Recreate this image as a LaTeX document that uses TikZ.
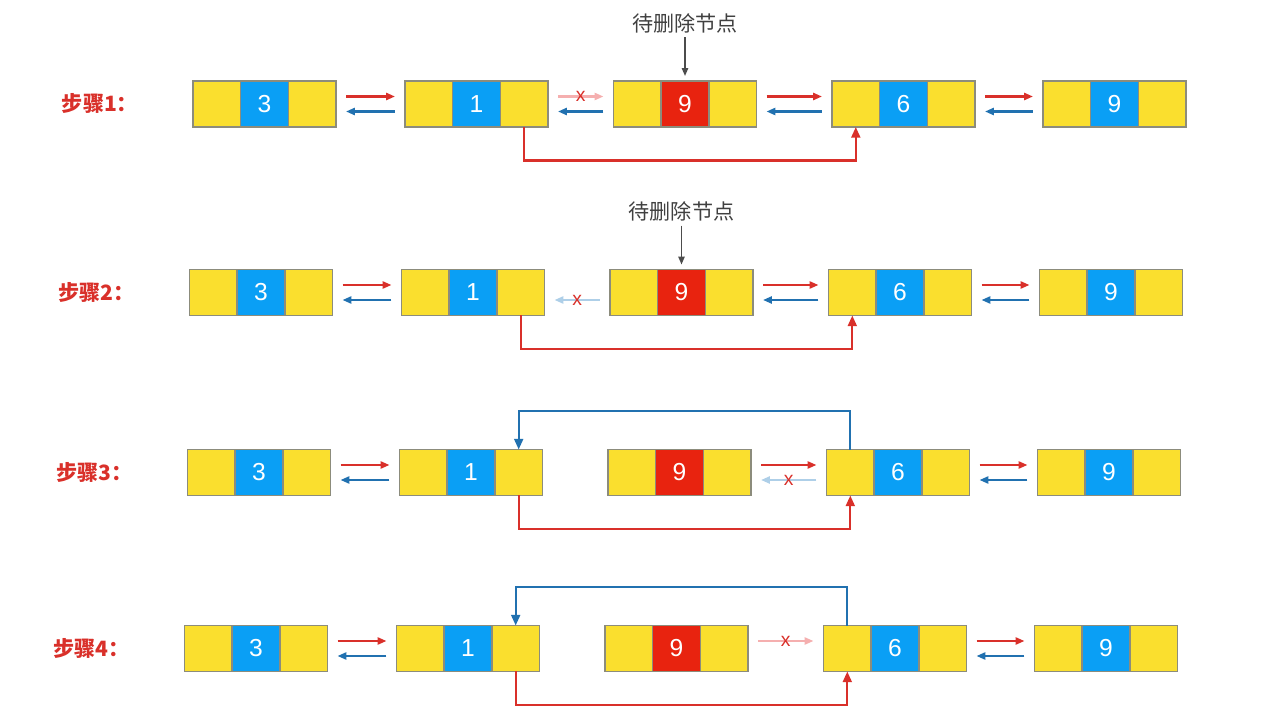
\documentclass[tikz,border=0pt]{standalone}
\usepackage{fontspec}
\setmainfont{Liberation Sans}
\newfontfamily\cjk{Noto Sans CJK SC}
\usetikzlibrary{positioning,arrows.meta}

\definecolor{cellyellow}{HTML}{FADF2E}
\definecolor{cellblue}{HTML}{0A9FF5}
\definecolor{cellred}{HTML}{E8230F}
\definecolor{cellborder}{HTML}{8C8C7C}
\definecolor{linkred}{HTML}{D9302A}
\definecolor{linkblue}{HTML}{2171B0}
\definecolor{fadedred}{HTML}{F5AFAF}
\definecolor{fadedblue}{HTML}{AECFE8}

\tikzset{
  cell/.style={draw=cellborder,line width=0.8pt,fill=cellyellow,
    minimum width=0.954cm,minimum height=0.92cm,inner sep=0pt,outer sep=0pt,
    text=white,font=\fontsize{14}{14}\selectfont},
  nxt/.style={draw=linkred,line width=1.2pt,-{Triangle[length=5pt,width=4pt]}},
  prv/.style={draw=linkblue,line width=1.2pt,-{Triangle[length=5pt,width=4pt]}},
  fnxt/.style={nxt,draw=fadedred},
  fprv/.style={prv,draw=fadedblue},
  cut/.style={text=linkred,font=\fontsize{11}{11}\selectfont,inner sep=0pt},
  jump/.style={line width=1.3pt,-{Triangle[length=6pt,width=5pt]}},
  steplabel/.style={text=linkred,font=\cjk\bfseries\fontsize{12}{12}\selectfont},
  dellabel/.style={text=black!75,font=\cjk\fontsize{12}{12}\selectfont,inner sep=2pt},
  ptr/.style={draw=black!70,line width=0.9pt,-{Triangle[length=4.5pt,width=3.6pt]}}
}

\begin{document}
\begin{tikzpicture}[x=0.02cm,y=-0.02cm]
\useasboundingbox (0,0) rectangle (1285,719);

%链表节点
\foreach \row/\y/\dx in {1/104/0,2/292.5/-3.5,3/472.5/-5.5,4/648.5/-8.5}{
  \node[steplabel] (s\row) at (100+\dx,\y) {步骤\row：};
  \foreach \b/\x/\v/\c in {1/264.5/3/cellblue,2/476.5/1/cellblue,3/685/9/cellred,4/903.5/6/cellblue,5/1114.5/9/cellblue}{
    \node[cell,fill=\c] (m\row\b) at (\x+\dx,\y) {\v};
    \node[cell,left=0pt of m\row\b] (l\row\b) {};
    \node[cell,right=0pt of m\row\b] (r\row\b) {};
  }
}

%前后指针
\foreach \row in {1,...,4}{
  \foreach \a/\b in {1/2,4/5}{
    \draw[nxt] ([xshift=0.2cm,yshift=0.15cm]r\row\a.east) -- ([xshift=-0.2cm,yshift=0.15cm]l\row\b.west);
    \draw[prv] ([xshift=-0.2cm,yshift=-0.15cm]l\row\b.west) -- ([xshift=0.2cm,yshift=-0.15cm]r\row\a.east);
  }
}
\foreach \row in {1,2}{
  \draw[nxt] ([xshift=0.2cm,yshift=0.15cm]r\row3.east) -- ([xshift=-0.2cm,yshift=0.15cm]l\row4.west);
  \draw[prv] ([xshift=-0.2cm,yshift=-0.15cm]l\row4.west) -- ([xshift=0.2cm,yshift=-0.15cm]r\row3.east);
}
\draw[fnxt] ([xshift=0.2cm,yshift=0.15cm]r12.east) -- node[cut]{x} ([xshift=-0.2cm,yshift=0.15cm]l13.west);
\draw[prv] ([xshift=-0.2cm,yshift=-0.15cm]l13.west) -- ([xshift=0.2cm,yshift=-0.15cm]r12.east);
\draw[fprv] ([xshift=-0.2cm,yshift=-0.15cm]l23.west) -- node[cut]{x} ([xshift=0.2cm,yshift=-0.15cm]r22.east);
\draw[nxt] ([xshift=0.2cm,yshift=0.15cm]r33.east) -- ([xshift=-0.2cm,yshift=0.15cm]l34.west);
\draw[fprv] ([xshift=-0.2cm,yshift=-0.15cm]l34.west) -- node[cut]{x} ([xshift=0.2cm,yshift=-0.15cm]r33.east);
\draw[fnxt] ([xshift=0.2cm,yshift=0.15cm]r43.east) -- node[cut]{x} ([xshift=-0.2cm,yshift=0.15cm]l44.west);

%跨过待删除节点
\foreach \row in {1,...,4}
  \draw[jump,draw=linkred] (r\row2.south) -- ++(0,-0.67cm) -| (l\row4.south);
\foreach \row in {3,4}
  \draw[jump,draw=linkblue] (l\row4.north) -- ++(0,0.77cm) -| (r\row2.north);

%待删除节点
\foreach \row in {1,2}{
  \node[dellabel,above=0.88cm of m\row3] (d\row) {待删除节点};
  \draw[ptr] (d\row.south) -- ([yshift=0.1cm]m\row3.north);
}
\end{tikzpicture}
\end{document}
